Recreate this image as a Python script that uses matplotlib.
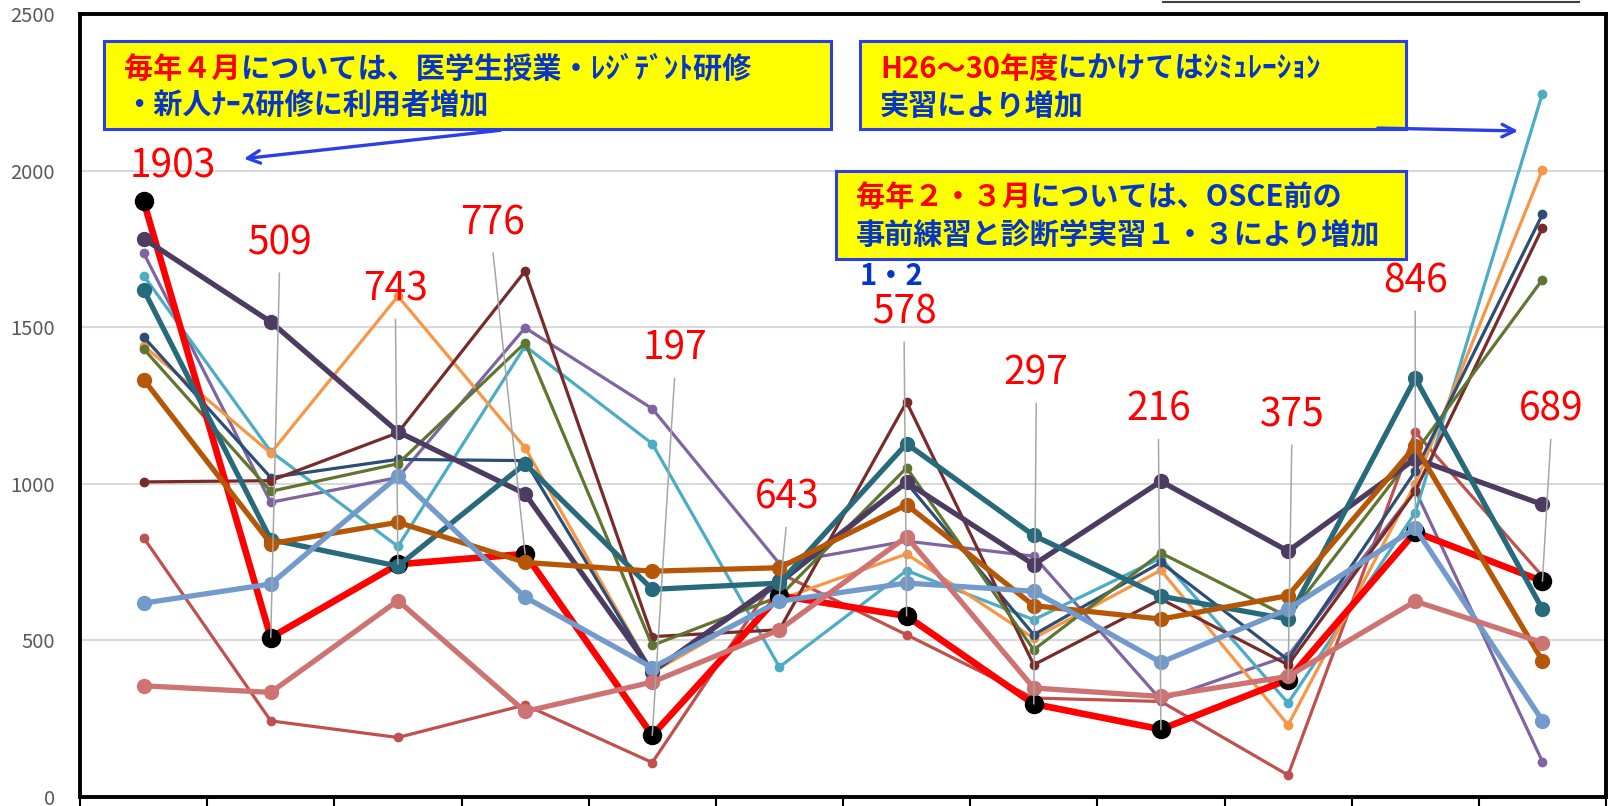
import matplotlib.pyplot as plt
import numpy as np

plt.rcParams['font.family'] = ['Noto Sans CJK JP', 'DejaVu Sans']

# months April .. March (axis labels are cut off in the picture)
months = ['4月', '5月', '6月', '7月', '8月', '9月', '10月', '11月', '12月', '1月', '2月', '3月']

# highlighted year (red, black markers)
latest = [1903, 509, 743, 776, 197, 643, 578, 297, 216, 375, 846, 689]

# thin series
s_c0504d = [828, 243, 190, 294, 110, 715, 518, 316, 305, 70, 1165, 705]
s_8064a2 = [1737, 941, 1020, 1498, 1240, 745, 817, 769, 310, 451, 980, 113]
s_4bacc6 = [1665, 1103, 800, 1440, 1128, 415, 723, 566, 763, 300, 908, 2246]
s_f79646 = [1441, 1098, 1599, 1115, 398, 630, 776, 507, 724, 230, 1000, 2003]
s_2c4d75 = [1469, 1020, 1078, 1074, 400, 680, 1003, 518, 749, 438, 1040, 1860]
s_772c2a = [1006, 1010, 1163, 1679, 512, 534, 1261, 422, 632, 422, 977, 1817]
s_5f7530 = [1431, 976, 1064, 1450, 484, 640, 1051, 470, 779, 575, 1100, 1652]

# thick series
s_4d3b62 = [1783, 1517, 1166, 968, 400, 690, 1005, 742, 1008, 785, 1080, 934]
s_276a7c = [1620, 822, 737, 1064, 663, 683, 1128, 835, 641, 568, 1337, 600]
s_b65708 = [1333, 809, 877, 749, 721, 732, 933, 611, 568, 643, 1120, 435]
s_729aca = [619, 680, 1024, 638, 413, 625, 683, 657, 430, 600, 858, 244]
s_cd7371 = [355, 334, 627, 273, 367, 534, 831, 348, 321, 385, 625, 493]

thin = [(s_c0504d, '#C0504D'), (s_8064a2, '#8064A2'), (s_4bacc6, '#4BACC6'),
        (s_f79646, '#F79646'), (s_2c4d75, '#2C4D75'), (s_772c2a, '#772C2A'),
        (s_5f7530, '#5F7530')]
thick = [(s_4d3b62, '#4D3B62'), (s_276a7c, '#276A7C'), (s_b65708, '#B65708'),
         (s_729aca, '#729ACA'), (s_cd7371, '#CD7371')]

# where the red value labels sit (data coords)
label_x = [0.23, 1.07, 1.98, 2.74, 4.18, 5.06, 5.98, 7.02, 7.98, 9.03, 10.0, 11.07]
label_y = [2014, 1768, 1621, 1832, 1432, 956, 1547, 1352, 1237, 1218, 1646, 1237]

W, H = 1609, 806
BLUE = '#0636C8'
EDGE = '#2B3FE6'

fig = plt.figure(figsize=(W / 100, H / 100), dpi=100)
ax = fig.add_axes([80 / W, 1 - 797 / H, (1606 - 80) / W, (797 - 14) / H])

x = np.arange(len(months))
for vals, c in thin:
    ax.plot(x, vals, color=c, lw=2.3, marker='o', ms=6, zorder=2)
ax.plot(x, latest, color='#FF0000', lw=4.8, marker='o', ms=13,
        mfc='black', mec='black', zorder=3)
for vals, c in thick:
    ax.plot(x, vals, color=c, lw=3.8, marker='o', ms=10, zorder=4)

ax.set_xlim(-0.5, 11.5)
ax.set_ylim(0, 2500)
ax.set_yticks(np.arange(0, 2501, 500))
ax.yaxis.grid(True, color='#D9D9D9', lw=1.5, zorder=0)
ax.set_axisbelow(True)
ax.tick_params(axis='y', length=0, pad=18, labelsize=14.5, labelcolor='#595959')
ax.set_xticks(np.arange(-0.5, 12, 1))
ax.set_xticklabels([])
ax.tick_params(axis='x', direction='out', length=8, width=1.5)
for sp in ax.spines.values():
    sp.set_linewidth(2.8)
    sp.set_color('black')

# red value labels with grey leader lines
for i, v in enumerate(latest):
    props = None
    if i != 0:
        props = dict(arrowstyle='-', color='#A6A6A6', lw=1.1,
                     shrinkA=5, shrinkB=0, relpos=(0.5, 0))
    ax.annotate(str(v), xy=(i, v), xytext=(label_x[i], label_y[i]),
                textcoords='data', ha='center', va='center', fontsize=28,
                color='#FF0000', arrowprops=props, zorder=8)


def fpx(px, py):
    return (px, H - py)


def box(x0, y0, x1, y1):
    r = plt.Rectangle((x0 / W, 1 - y1 / H), (x1 - x0) / W, (y1 - y0) / H,
                      transform=fig.transFigure, facecolor='#FFFF00',
                      edgecolor=EDGE, lw=2.2, zorder=6, clip_on=False)
    ax.add_patch(r)


def two_tone(px, py, red_part, blue_part, size=21):
    t1 = ax.annotate(red_part, xy=fpx(px, py), xycoords='figure pixels',
                     color='#FF0000', fontsize=size, fontweight='bold',
                     ha='left', va='center', zorder=7)
    ax.annotate(blue_part, xy=(1, 0), xycoords=t1, color=BLUE, fontsize=size,
                fontweight='bold', ha='left', va='bottom', zorder=7)


def blue_line(px, py, s, size=21):
    ax.annotate(s, xy=fpx(px, py), xycoords='figure pixels', color=BLUE,
                fontsize=size, fontweight='bold', ha='left', va='center', zorder=7)


box(104, 41, 831, 129)
two_tone(124, 69, '毎年４月', 'については、医学生授業・ﾚｼﾞﾃﾞﾝﾄ研修')
blue_line(124, 106, '・新人ﾅｰｽ研修に利用者増加')

box(860, 41, 1406, 129)
two_tone(880, 69, 'H26～30年度', 'にかけてはｼﾐｭﾚｰｼｮﾝ')
blue_line(880, 106, '実習により増加')

box(836, 171, 1406, 259)
two_tone(856, 197, '毎年２・３月', 'については、OSCE前の')
blue_line(856, 236, '事前練習と診断学実習１・３により増加')

blue_line(860, 276, '1・2')

arrow = dict(arrowstyle='->,head_length=0.9,head_width=0.45', color=EDGE, lw=2.4)
ax.annotate('', xy=fpx(241, 159), xytext=fpx(503, 130),
            xycoords='figure pixels', textcoords='figure pixels',
            arrowprops=arrow, zorder=7)
ax.annotate('', xy=fpx(1521, 131), xytext=fpx(1375, 128),
            xycoords='figure pixels', textcoords='figure pixels',
            arrowprops=arrow, zorder=7)

# bottom edge of the legend box that sits above the visible area
fig.add_artist(plt.Line2D([1163 / W, 1579 / W], [1 - 1.5 / H, 1 - 1.5 / H],
                          transform=fig.transFigure, color='#404040', lw=1.5))

fig.savefig('out.png', dpi=100)
